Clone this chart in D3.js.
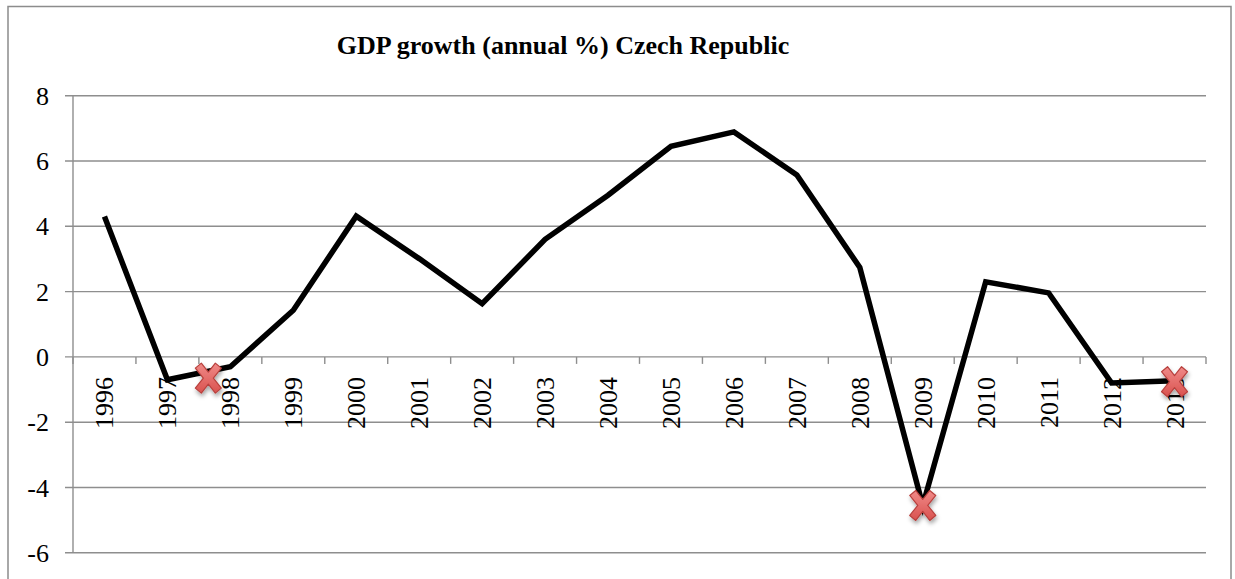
<!DOCTYPE html>
<html><head><meta charset="utf-8">
<script src="https://cdn.jsdelivr.net/npm/d3@7"></script>
<style>body{margin:0;background:#fff}svg{display:block}
text{font-family:"Liberation Serif","Times New Roman",Times,"DejaVu Serif",serif}</style>
</head><body>
<script>
const years = ["1996","1997","1998","1999","2000","2001","2002","2003","2004","2005","2006","2007","2008","2009","2010","2011","2012","2013"];
const growth = [4.3,-0.7,-0.3,1.43,4.31,3.01,1.63,3.6,4.95,6.45,6.89,5.57,2.74,-4.55,2.3,1.96,-0.8,-0.73];
const markerPos = [1.65, 13, 17];        // category index (fractional) of the red X markers
const markerVal = [-0.65, -4.55, -0.76];
const yTicks = [-6,-4,-2,0,2,4,6,8];
const title = "GDP growth (annual %) Czech Republic";

(function(){
const W = 1235, H = 579;
const svg = d3.select("body").append("svg").attr("width", W).attr("height", H);
const defs = svg.append("defs");
const f = defs.append("filter").attr("id","sh").attr("x","-50%").attr("y","-50%").attr("width","200%").attr("height","200%");
f.append("feDropShadow").attr("dx",1).attr("dy",3).attr("stdDeviation",2).attr("flood-color","#000").attr("flood-opacity",0.35);
const g = defs.append("linearGradient").attr("id","xg").attr("x1",0).attr("y1",0).attr("x2",0).attr("y2",1);
g.append("stop").attr("offset","0%").attr("stop-color","#f08a88");
g.append("stop").attr("offset","100%").attr("stop-color","#d9524f");

svg.append("rect").attr("x",8).attr("y",6.5).attr("width",1223).attr("height",590)
  .attr("fill","#fff").attr("stroke","#8c8c8c").attr("stroke-width",1.5);

const pl = 73, pr = 1206, pt = 95.7, pb = 552.8;
const x = d3.scaleBand().domain(years).range([pl,pr]).paddingInner(0).paddingOuter(0);
const xi = d3.scaleLinear().domain([0, years.length-1]).range([pl + x.bandwidth()/2, pr - x.bandwidth()/2]);
const y = d3.scaleLinear().domain([-6,8]).range([pb, pt]);

svg.append("g").selectAll("line").data(yTicks).join("line")
  .attr("x1",65).attr("x2",pr).attr("y1",d=>y(d)).attr("y2",d=>y(d))
  .attr("stroke","#8e8e8e").attr("stroke-width",1.4);
svg.append("line").attr("x1",pl).attr("x2",pl).attr("y1",pt).attr("y2",pb)
  .attr("stroke","#8e8e8e").attr("stroke-width",1.4);
svg.append("g").selectAll("text").data(yTicks).join("text")
  .attr("x",49).attr("y",d=>y(d)).attr("dy","0.35em").attr("text-anchor","end")
  .attr("font-size",26).attr("fill","#000")
  .text(d=>d);
const bounds = years.map(d=>x(d)).concat([pr]);
svg.append("g").selectAll("line").data(bounds).join("line")
  .attr("x1",d=>d).attr("x2",d=>d).attr("y1",y(0)).attr("y2",y(0)+7)
  .attr("stroke","#8e8e8e").attr("stroke-width",1.4);
svg.append("g").selectAll("text").data(years).join("text")
  .attr("transform",d=>`translate(${x(d)+x.bandwidth()/2+9},${y(0)+20}) rotate(-90)`)
  .attr("text-anchor","end")
  .attr("font-size",26).attr("fill","#000")
  .text(d=>d);

const line = d3.line().x((d,i)=>x(years[i])+x.bandwidth()/2).y(d=>y(d));
svg.append("path").datum(growth).attr("d",line).attr("fill","none")
  .attr("stroke","#000").attr("stroke-width",5.5).attr("stroke-linejoin","miter").attr("stroke-miterlimit",10);

const xs = "M-13,-10 L-7,-15 L0,-6 L7,-15 L13,-10 L5,0 L13,10 L7,15 L0,6 L-7,15 L-13,10 L-5,0 Z";
svg.append("g").selectAll("path").data(markerPos).join("path")
  .attr("transform",(d,i)=>`translate(${xi(d)},${y(markerVal[i])})`)
  .attr("d",xs).attr("fill","url(#xg)").attr("stroke","#b8403d").attr("stroke-width",1.2)
  .attr("stroke-linejoin","round").attr("filter","url(#sh)");

svg.append("text").attr("x",563).attr("y",54).attr("text-anchor","middle")
  .attr("font-weight","bold").attr("font-size",26)
  .attr("fill","#000").text(title);
})();
</script>
</body></html>
